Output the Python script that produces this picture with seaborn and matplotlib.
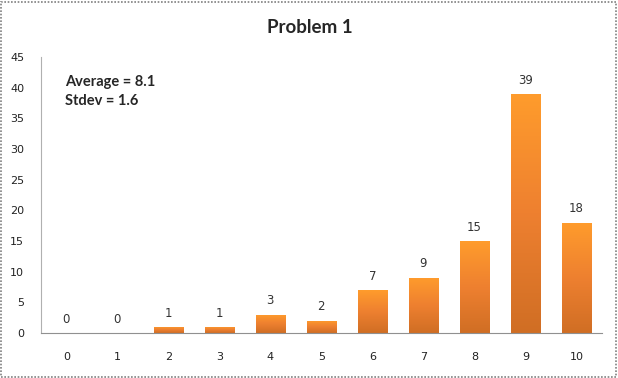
import numpy as np
import pandas as pd
import matplotlib
matplotlib.use('Agg')
import matplotlib.pyplot as plt
import seaborn as sns
from matplotlib.colors import LinearSegmentedColormap
from matplotlib.patches import Rectangle

# Data
scores = ['0', '1', '2', '3', '4', '5', '6', '7', '8', '9', '10']
counts = [0, 0, 1, 1, 3, 2, 7, 9, 15, 39, 18]
title = 'Problem 1'
stats_text = 'Average = 8.1\nStdev = 1.6'

df = pd.DataFrame({'score': scores, 'count': counts})

sns.set_style('white')
plt.rcParams['font.family'] = ['Lato', 'DejaVu Sans']

fig = plt.figure(figsize=(6.18, 3.78), dpi=100)
ax = fig.add_axes([0.066, 0.119, 0.908, 0.730])

sns.barplot(data=df, x='score', y='count', color='#f7941d', width=0.58, ax=ax)

# orange vertical gradient inside each bar
cmap = LinearSegmentedColormap.from_list('og', ['#d06e24', '#ee8030', '#ff9c2c'])
grad = np.linspace(0, 1, 256).reshape(-1, 1)
for bar in ax.patches:
    h = bar.get_height()
    if h <= 0:
        continue
    x0 = bar.get_x()
    w = bar.get_width()
    im = ax.imshow(grad, cmap=cmap, aspect='auto', origin='lower',
                   extent=[x0, x0 + w, 0, h], zorder=bar.get_zorder() + 0.1)
    im.set_clip_path(bar)
    bar.set_edgecolor('#e0a070')
    bar.set_linewidth(0.4)

for i, v in enumerate(counts):
    ax.text(i, v + 1.2, str(v), ha='center', va='bottom', fontsize=8.5,
            color='#333333', family='DejaVu Sans')

ax.set_xlim(-0.5, len(scores) - 0.5)
ax.set_ylim(0, 45)
ax.set_yticks(range(0, 46, 5))
ax.set_xlabel('')
ax.set_ylabel('')
ax.tick_params(axis='both', length=0, labelsize=8, colors='#222222')
ax.tick_params(axis='x', pad=14)
ax.tick_params(axis='y', pad=12)
for lab in ax.get_xticklabels() + ax.get_yticklabels():
    lab.set_family('DejaVu Sans')

for s in ['top', 'right']:
    ax.spines[s].set_visible(False)
ax.spines['left'].set_color('#b0b0b0')
ax.spines['bottom'].set_color('#909090')
ax.spines['left'].set_linewidth(0.8)
ax.spines['bottom'].set_linewidth(0.8)

fig.text(0.502, 0.926, title, ha='center', va='center', fontsize=13.5, fontweight='bold')
ax.text(0.043, 0.935, stats_text, transform=ax.transAxes, ha='left', va='top',
        fontsize=10.5, fontweight='bold', linespacing=1.45)

# dashed frame around the whole chart
fig.patches.append(Rectangle((0.002, 0.003), 0.995, 0.993, transform=fig.transFigure,
                             fill=False, edgecolor='#808080', linestyle=(0, (1, 1)),
                             linewidth=1.2))

fig.savefig('out.png', dpi=100)
